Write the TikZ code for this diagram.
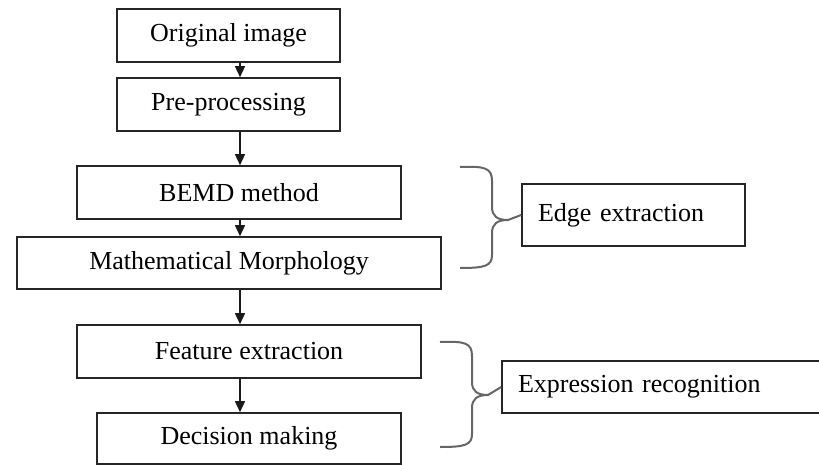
\documentclass[tikz,border=0pt]{standalone}
\usepackage{fontspec}
\setmainfont{Liberation Serif}
\usetikzlibrary{arrows.meta}
\begin{document}
\begin{tikzpicture}[x=1pt,y=-1pt,
  stepbox/.style={draw=black!85, line width=1.6pt, inner sep=0pt, font=\fontsize{26}{30}\selectfont},
  flow/.style={draw=black!90, line width=1.4pt, -{Triangle[length=11pt,width=10pt]}},
  brace/.style={draw=black!60, line width=2pt, line join=round}]
  \clip (0,0) rectangle (819,465);
  % main flow boxes: (left,top) to (right,bottom)
  \node[stepbox, minimum width=223pt, minimum height=53pt] (orig) at (228.5,35.5) {Original image};
  \node[stepbox, minimum width=223pt, minimum height=53pt] (pre)  at (228.5,104.5) {Pre-processing};
  \node[stepbox, minimum width=324pt, minimum height=53pt] (bemd) at (239,192.5) {BEMD method};
  \node[stepbox, minimum width=424pt, minimum height=52pt] (math) at (229,263) {Mathematical Morphology};
  \node[stepbox, minimum width=344pt, minimum height=53pt] (feat) at (249,351.5) {Feature extraction};
  \node[stepbox, minimum width=304pt, minimum height=51pt] (dec)  at (249,438.5) {Decision making};
  % group labels; the second runs off the right margin
  \node[stepbox, minimum width=223pt, minimum height=62pt, text width=191pt, align=left] (edge) at (633.5,215) {Edge extraction};
  \node[stepbox, minimum width=340pt, minimum height=52pt, text width=308pt, align=left] (expr) at (672,387) {Expression recognition};
  % arrows down the column
  \draw[flow] (orig.south -| 240,0) -- (pre.north -| 240,0);
  \draw[flow] (pre.south -| 240,0) -- (bemd.north -| 240,0);
  \draw[flow] (bemd.south -| 240,0) -- (math.north -| 240,0);
  \draw[flow] (math.south -| 240,0) -- (feat.north -| 240,0);
  \draw[flow] (feat.south -| 240,0) -- (dec.north -| 240,0);
  % curly braces joining the steps to their group labels
  \draw[brace] (460,167) .. controls (485,166) and (492,168) .. (492,181) -- (492,207)
    .. controls (492,216) and (497,220) .. (508,220) -- (edge.west)
    (508,220) .. controls (497,220) and (492,224) .. (492,233) -- (492,255)
    .. controls (492,266) and (485,268) .. (460,268);
  \draw[brace] (440,342) .. controls (465,341) and (472,343) .. (472,356) -- (472,382)
    .. controls (472,391) and (477,395) .. (488,395) -- (expr.west)
    (488,395) .. controls (477,395) and (472,399) .. (472,408) -- (472,434)
    .. controls (472,445) and (465,447) .. (440,447);
\end{tikzpicture}
\end{document}
